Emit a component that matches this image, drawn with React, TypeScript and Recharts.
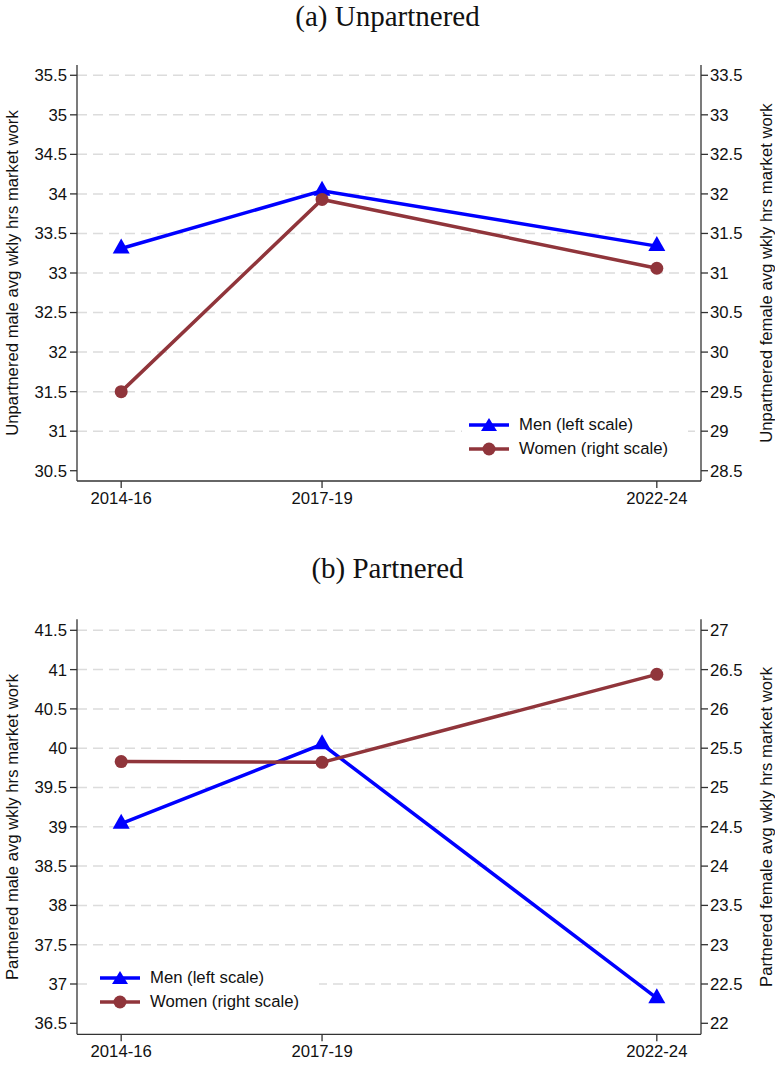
import React from 'react';
import { LineChart, Line, XAxis, YAxis, ReferenceLine, Legend } from 'recharts';

// periods shown on the x axis, placed at their middle year
const periods = ['2014-16', '2017-19', '2022-24'];
const periodMid = [2015, 2018, 2023];

// average weekly hours of market work
const unpartneredMen = [33.31, 34.04, 33.34];
const unpartneredWomen = [29.5, 31.93, 31.06];
const partneredMen = [39.04, 40.05, 36.82];
const partneredWomen = [25.33, 25.32, 26.44];

const unpartneredLeftTicks = [30.5, 31, 31.5, 32, 32.5, 33, 33.5, 34, 34.5, 35, 35.5];
const unpartneredRightTicks = [28.5, 29, 29.5, 30, 30.5, 31, 31.5, 32, 32.5, 33, 33.5];
const partneredLeftTicks = [36.5, 37, 37.5, 38, 38.5, 39, 39.5, 40, 40.5, 41, 41.5];
const partneredRightTicks = [22, 22.5, 23, 23.5, 24, 24.5, 25, 25.5, 26, 26.5, 27];

const seriesNames = ['Men (left scale)', 'Women (right scale)'];

const MEN_COLOR = '#0000ff';
const WOMEN_COLOR = '#90353b';
const GRID_COLOR = '#dcdcdc';
const AXIS_COLOR = '#333';
const SANS = '"Liberation Sans", Arial, sans-serif';
const SERIF = '"Liberation Serif", "Times New Roman", serif';
const FS = 16.7;

const renderTriangle = (p: any) => {
    const { cx, cy, index } = p;
    if (cx == null || cy == null) return <g key={`tri-${index}`} />;
    return (
        <polygon
            key={`tri-${index}`}
            points={`${cx},${cy - 10} ${cx - 8.5},${cy + 5} ${cx + 8.5},${cy + 5}`}
            fill={MEN_COLOR}
        />
    );
};

const LegendBox = () => (
    <div style={{ background: '#fff', padding: '4px 0 4px 7px', fontFamily: SANS, fontSize: FS, color: '#111' }}>
        {seriesNames.map((name, i) => (
            <div key={name} style={{ display: 'flex', alignItems: 'center', height: 24 }}>
                <svg width={40} height={18} style={{ display: 'block' }}>
                    <line x1={0} x2={40} y1={9} y2={9} stroke={i === 0 ? MEN_COLOR : WOMEN_COLOR} strokeWidth={3.5} />
                    {i === 0 ? (
                        <polygon points="20,2 12,15 28,15" fill={MEN_COLOR} />
                    ) : (
                        <circle cx={20} cy={9} r={6.5} fill={WOMEN_COLOR} />
                    )}
                </svg>
                <span style={{ marginLeft: 10, whiteSpace: 'nowrap' }}>{name}</span>
            </div>
        ))}
    </div>
);

interface PanelProps {
    title: string;
    top: number;
    height: number;
    marginTop: number;
    marginBottom: number;
    men: number[];
    women: number[];
    leftTicks: number[];
    rightTicks: number[];
    leftDomain: [number, number];
    rightDomain: [number, number];
    leftTitle: string;
    rightTitle: string;
    titleY: number;
    axisTitleY: number;
    legendPos: { left: number; top: number; width: number };
}

const Panel: React.FC<PanelProps> = (props) => {
    const data = periodMid.map((x, i) => ({ x, men: props.men[i], women: props.women[i] }));
    const tickStyle = { fontSize: FS, fill: '#111', fontFamily: SANS };

    return (
        <>
            <div style={{
                position: 'absolute', left: 0, width: 775, top: props.titleY, transform: 'translateY(-50%)',
                textAlign: 'center', fontFamily: SERIF, fontSize: 29, color: '#111', lineHeight: 1
            }}>
                {props.title}
            </div>
            <div style={{ position: 'absolute', left: 0, top: props.top }}>
                <LineChart
                    width={775}
                    height={props.height}
                    data={data}
                    margin={{ top: props.marginTop, right: 0, bottom: props.marginBottom, left: 0 }}
                >
                    <XAxis
                        dataKey="x"
                        type="number"
                        domain={[2014.34, 2023.66]}
                        allowDataOverflow
                        ticks={periodMid}
                        interval={0}
                        tickFormatter={(v) => periods[periodMid.indexOf(v)]}
                        height={30}
                        tickSize={7}
                        tickMargin={4}
                        tick={tickStyle}
                        axisLine={{ stroke: AXIS_COLOR, strokeWidth: 1.3 }}
                        tickLine={{ stroke: AXIS_COLOR, strokeWidth: 1.3 }}
                    />
                    <YAxis
                        yAxisId="left"
                        orientation="left"
                        type="number"
                        width={77}
                        domain={props.leftDomain}
                        allowDataOverflow
                        ticks={props.leftTicks}
                        interval={0}
                        tickSize={7}
                        tickMargin={3}
                        tick={tickStyle}
                        axisLine={{ stroke: AXIS_COLOR, strokeWidth: 1.3 }}
                        tickLine={{ stroke: AXIS_COLOR, strokeWidth: 1.3 }}
                    />
                    <YAxis
                        yAxisId="right"
                        orientation="right"
                        type="number"
                        width={74}
                        domain={props.rightDomain}
                        allowDataOverflow
                        ticks={props.rightTicks}
                        interval={0}
                        tickSize={7}
                        tickMargin={2}
                        tick={tickStyle}
                        axisLine={{ stroke: AXIS_COLOR, strokeWidth: 1.3 }}
                        tickLine={{ stroke: AXIS_COLOR, strokeWidth: 1.3 }}
                    />
                    {/* grid at every tick except the lowest */}
                    {props.leftTicks.slice(1).map((v) => (
                        <ReferenceLine
                            key={`g-${v}`}
                            yAxisId="left"
                            y={v}
                            stroke={GRID_COLOR}
                            strokeWidth={1.5}
                            strokeDasharray="10 6"
                        />
                    ))}
                    <Line
                        yAxisId="left"
                        dataKey="men"
                        name={seriesNames[0]}
                        type="linear"
                        stroke={MEN_COLOR}
                        strokeWidth={3.5}
                        dot={(p: any) => renderTriangle(p)}
                        activeDot={false}
                        isAnimationActive={false}
                    />
                    <Line
                        yAxisId="right"
                        dataKey="women"
                        name={seriesNames[1]}
                        type="linear"
                        stroke={WOMEN_COLOR}
                        strokeWidth={3.5}
                        dot={{ r: 6.5, fill: WOMEN_COLOR, stroke: WOMEN_COLOR, strokeWidth: 0 }}
                        activeDot={false}
                        isAnimationActive={false}
                    />
                    <Legend
                        layout="vertical"
                        align="center"
                        verticalAlign="middle"
                        content={() => <LegendBox />}
                        wrapperStyle={{ left: props.legendPos.left, top: props.legendPos.top, width: props.legendPos.width }}
                    />
                </LineChart>
            </div>
            <div style={{
                position: 'absolute', left: 12.5, top: props.axisTitleY, transform: 'translate(-50%, -50%) rotate(-90deg)',
                whiteSpace: 'nowrap', fontFamily: SANS, fontSize: FS, color: '#111', lineHeight: 1
            }}>
                {props.leftTitle}
            </div>
            <div style={{
                position: 'absolute', left: 766.5, top: props.axisTitleY, transform: 'translate(-50%, -50%) rotate(-90deg)',
                whiteSpace: 'nowrap', fontFamily: SANS, fontSize: FS, color: '#111', lineHeight: 1
            }}>
                {props.rightTitle}
            </div>
        </>
    );
};

const App: React.FC = () => (
    <div style={{ position: 'absolute', left: 0, top: 0, width: 775, height: 1066, background: '#fff', overflow: 'hidden' }}>
        <Panel
            title="(a) Unpartnered"
            titleY={16}
            top={0}
            height={540}
            marginTop={65}
            marginBottom={29}
            men={unpartneredMen}
            women={unpartneredWomen}
            leftTicks={unpartneredLeftTicks}
            rightTicks={unpartneredRightTicks}
            leftDomain={[30.37, 35.63]}
            rightDomain={[28.37, 33.63]}
            leftTitle="Unpartnered male avg wkly hrs market work"
            rightTitle="Unpartnered female avg wkly hrs market work"
            axisTitleY={273}
            legendPos={{ left: 462, top: 409, width: 226 }}
        />
        <Panel
            title="(b) Partnered"
            titleY={568}
            top={540}
            height={526}
            marginTop={79.3}
            marginBottom={1.7}
            men={partneredMen}
            women={partneredWomen}
            leftTicks={partneredLeftTicks}
            rightTicks={partneredRightTicks}
            leftDomain={[36.36, 41.64]}
            rightDomain={[21.86, 27.14]}
            leftTitle="Partnered male avg wkly hrs market work"
            rightTitle="Partnered female avg wkly hrs market work"
            axisTitleY={827}
            legendPos={{ left: 93, top: 422, width: 226 }}
        />
    </div>
);

export default App;
